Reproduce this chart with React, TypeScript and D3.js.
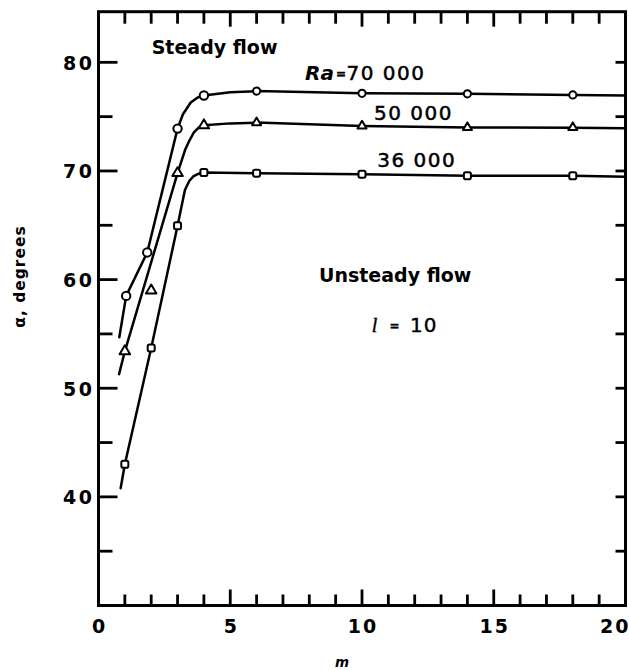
import React from "react";
import * as d3 from "d3";

// ---- data ----
const mTicks = [0, 5, 10, 15, 20];
const alphaTicks = [40, 50, 60, 70, 80];

const markerM70 = [1.05, 1.85, 3, 4, 6, 10, 14, 18];
const alpha70 = [58.5, 62.5, 73.9, 76.95, 77.35, 77.15, 77.1, 77.0];
const markerM50 = [1, 2, 3, 4, 6, 10, 14, 18];
const alpha50 = [53.4, 59.0, 69.8, 74.2, 74.45, 74.15, 74.0, 74.0];
const markerM36 = [1, 2, 3, 4, 6, 10, 14, 18];
const alpha36 = [43.0, 53.7, 64.95, 69.85, 69.8, 69.7, 69.55, 69.55];

// faired curves drawn through the data
const curveM70 = [0.79, 1.05, 1.85, 3, 3.2, 3.5, 3.75, 4, 5, 6, 10, 14, 18, 20];
const curveA70 = [54.7, 58.5, 62.5, 73.9, 75.2, 76.3, 76.75, 76.95, 77.25, 77.35, 77.15, 77.1, 77.0, 76.95];
const curveM50 = [0.78, 1, 3, 3.28, 3.45, 3.62, 3.8, 4, 5, 6, 10, 14, 18, 20];
const curveA50 = [51.3, 53.4, 69.8, 71.9, 72.8, 73.55, 74.0, 74.2, 74.38, 74.45, 74.15, 74.0, 73.98, 73.92];
const curveM36 = [0.84, 1, 2, 3, 3.28, 3.45, 3.6, 3.8, 4, 6, 10, 14, 18, 20];
const curveA36 = [40.8, 43.0, 53.7, 64.95, 68.25, 69.1, 69.5, 69.75, 69.85, 69.8, 69.7, 69.55, 69.55, 69.47];

const minorXTicks = [0, 1, 2, 3, 4, 5, 6, 7, 8, 9, 10, 11, 12, 13, 14, 15, 16, 17, 18, 19, 20];
const minorYTicks = [35, 40, 45, 50, 55, 60, 65, 70, 75, 80];

const W = 629;
const H = 670;

export default function App() {
  const x = d3.scaleLinear().domain([0, 20]).range([98.5, 625.5]);
  const y = d3.scaleLinear().domain([30, 84.66]).range([605.5, 11.7]);

  const line = d3
    .line<[number, number]>()
    .x((d) => x(d[0]))
    .y((d) => y(d[1]))
    .curve(d3.curveLinear);

  const zip = (a: number[], b: number[]) => a.map((v, i) => [v, b[i]] as [number, number]);
  const curves = [zip(curveM70, curveA70), zip(curveM50, curveA50), zip(curveM36, curveA36)];

  const font = "'DejaVu Sans', sans-serif";
  const left = x(0);
  const right = x(20);
  const yTop = y(84.66);
  const yBot = y(30);
  const tw = 2.8;

  const tri = (cx: number, cy: number, w: number) => {
    const h = w * 0.85;
    return `M${cx},${cy - (h * 2) / 3}L${cx + w / 2},${cy + h / 3}L${cx - w / 2},${cy + h / 3}Z`;
  };

  return (
    <div style={{ position: "absolute", left: 0, top: 0 }}>
      <svg width={W} height={H} style={{ display: "block", background: "#fff" }}>
        {curves.map((c, i) => (
          <path key={i} d={line(c) || ""} fill="none" stroke="#000" strokeWidth={2.5} strokeLinejoin="round" strokeLinecap="round" />
        ))}

        {markerM70.map((m, i) => (
          <circle key={"c" + i} cx={x(m)} cy={y(alpha70[i])} r={i < 4 ? 4.2 : 3.6} fill="#fff" stroke="#000" strokeWidth={2} />
        ))}
        {markerM50.map((m, i) => (
          <path key={"t" + i} d={tri(x(m), y(alpha50[i]), i < 4 ? 10.5 : 9)} fill="#fff" stroke="#000" strokeWidth={2} strokeLinejoin="round" />
        ))}
        {markerM36.map((m, i) => (
          <rect key={"s" + i} x={x(m) - 3.5} y={y(alpha36[i]) - 3.5} width={7} height={7} rx={1.8} fill="#fff" stroke="#000" strokeWidth={2} />
        ))}

        {/* ticks */}
        {minorXTicks.map((v) => (
          <line key={"xb" + v} x1={x(v)} x2={x(v)} y1={yBot} y2={yBot - (v % 5 === 0 ? 16 : 11)} stroke="#000" strokeWidth={tw} />
        ))}
        {minorXTicks.map((v) => (
          <line key={"xtp" + v} x1={x(v)} x2={x(v)} y1={yTop} y2={yTop + (v % 5 === 0 ? 15 : 12)} stroke="#000" strokeWidth={tw} />
        ))}
        {minorYTicks.map((v) => (
          <line key={"yl" + v} x1={left} x2={left + (v % 10 === 0 ? 19 : 14)} y1={y(v)} y2={y(v)} stroke="#000" strokeWidth={tw} />
        ))}
        {minorYTicks.map((v) => (
          <line key={"yr" + v} x1={right} x2={right - 10} y1={y(v)} y2={y(v)} stroke="#000" strokeWidth={tw} />
        ))}

        <rect x={left} y={yTop} width={right - left} height={yBot - yTop} fill="none" stroke="#000" strokeWidth={3} />

        {alphaTicks.map((v) => (
          <text key={"ylab" + v} x={94.5} y={y(v) + 7.5} textAnchor="end" fontFamily={font} fontWeight="bold" fontSize={19} letterSpacing={2.5}>
            {v}
          </text>
        ))}
        {mTicks.map((v, i) => {
          const last = i === mTicks.length - 1;
          return (
            <text key={"xlab" + v} x={last ? x(v) + 5 : x(v) + 1} y={633} textAnchor={last ? "end" : "middle"} fontFamily={font} fontWeight="bold" fontSize={19} letterSpacing={2}>
              {v}
            </text>
          );
        })}

        <text x={335} y={666.5} fontFamily={font} fontWeight="bold" fontStyle="italic" fontSize={13.5}>m</text>
        <text transform="translate(25,276.5) rotate(-90)" textAnchor="middle" fontFamily={font} fontWeight="bold" fontSize={15.5} letterSpacing={1}>
          α, degrees
        </text>

        <text x={151.7} y={54.3} fontFamily={font} fontWeight="bold" fontSize={19}>Steady flow</text>
        <text x={319} y={282.3} fontFamily={font} fontWeight="bold" fontSize={19}>Unsteady flow</text>
        <text x={305} y={80} fontFamily={font} fontSize={20} stroke="#000" strokeWidth={0.5}>
          <tspan fontStyle="italic" fontWeight="bold" strokeWidth={0}>Ra</tspan>
          <tspan x={336} fontSize={12} fontWeight="bold" dy={-2}>=</tspan>
          <tspan x={346.5} dy={2} letterSpacing={1.5}>70 000</tspan>
        </text>
        <text x={374} y={120} fontFamily={font} fontSize={20} letterSpacing={1.5} stroke="#000" strokeWidth={0.5}>50 000</text>
        <text x={377.3} y={166.7} fontFamily={font} fontSize={20} letterSpacing={1.5} stroke="#000" strokeWidth={0.5}>36 000</text>
        <text x={371.7} y={331.7} fontFamily={font} fontSize={20} stroke="#000" strokeWidth={0.4}>
          <tspan fontFamily="'Liberation Serif', serif" fontStyle="italic">l</tspan>
          <tspan x={389.5} fontSize={12} fontWeight="bold" dy={-2}>=</tspan>
          <tspan x={410} dy={2} letterSpacing={1}>10</tspan>
        </text>
      </svg>
    </div>
  );
}
